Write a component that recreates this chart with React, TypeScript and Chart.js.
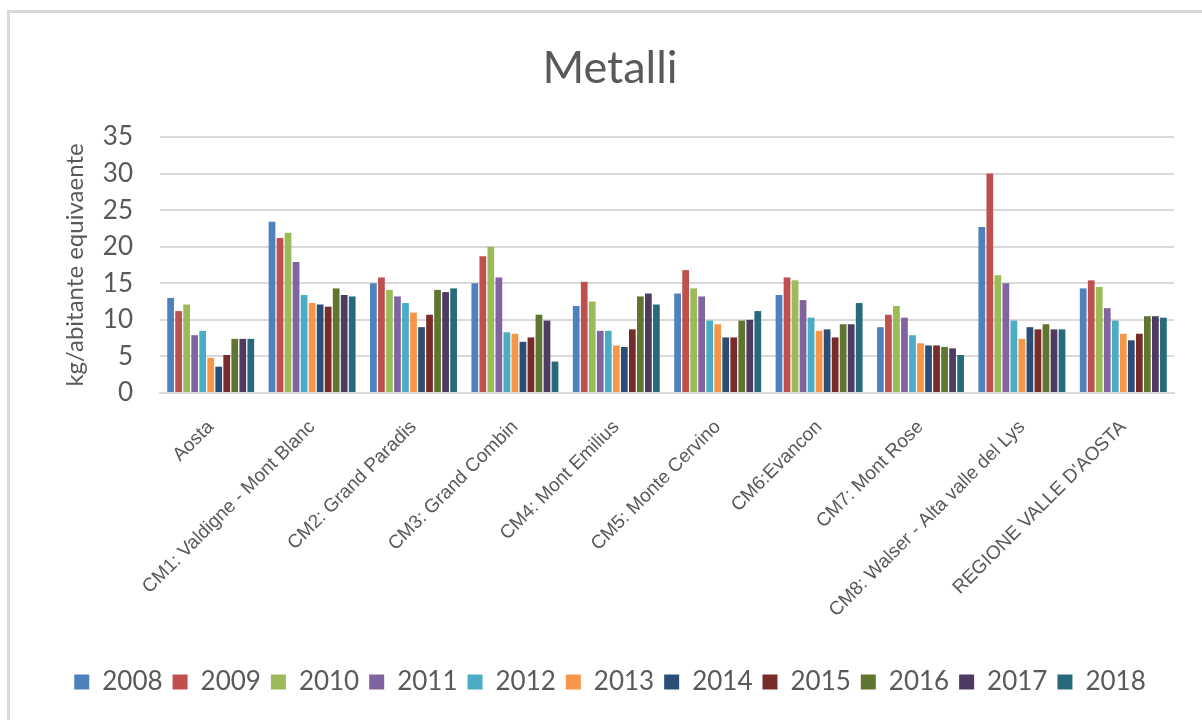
import React, { useEffect, useRef } from "react";
import { Chart, registerables } from "chart.js";

Chart.register(...registerables);

const categories = [
  "Aosta",
  "CM1: Valdigne - Mont Blanc",
  "CM2: Grand Paradis",
  "CM3: Grand Combin",
  "CM4: Mont Emilius",
  "CM5: Monte Cervino",
  "CM6:Evancon",
  "CM7: Mont Rose",
  "CM8: Walser - Alta valle del Lys",
  "REGIONE VALLE D'AOSTA",
];

const years = ["2008", "2009", "2010", "2011", "2012", "2013", "2014", "2015", "2016", "2017", "2018"];

const y2008 = [13.0, 23.4, 15.0, 15.0, 11.9, 13.6, 13.4, 9.0, 22.7, 14.3];
const y2009 = [11.2, 21.2, 15.8, 18.7, 15.2, 16.8, 15.8, 10.7, 30.0, 15.4];
const y2010 = [12.1, 21.9, 14.1, 20.0, 12.5, 14.3, 15.4, 11.9, 16.1, 14.5];
const y2011 = [7.9, 17.9, 13.2, 15.8, 8.5, 13.2, 12.7, 10.3, 15.0, 11.6];
const y2012 = [8.5, 13.4, 12.3, 8.3, 8.5, 9.9, 10.3, 7.9, 9.9, 9.9];
const y2013 = [4.8, 12.3, 11.0, 8.1, 6.5, 9.4, 8.5, 6.8, 7.4, 8.1];
const y2014 = [3.6, 12.1, 9.0, 7.0, 6.3, 7.6, 8.7, 6.5, 9.0, 7.2];
const y2015 = [5.2, 11.8, 10.7, 7.6, 8.7, 7.6, 7.6, 6.5, 8.7, 8.1];
const y2016 = [7.4, 14.3, 14.1, 10.7, 13.2, 9.9, 9.4, 6.3, 9.4, 10.5];
const y2017 = [7.4, 13.4, 13.8, 9.9, 13.6, 10.0, 9.4, 6.1, 8.7, 10.5];
const y2018 = [7.4, 13.2, 14.3, 4.3, 12.1, 11.2, 12.3, 5.2, 8.7, 10.3];

const seriesValues = [y2008, y2009, y2010, y2011, y2012, y2013, y2014, y2015, y2016, y2017, y2018];

const colors = [
  "#4F81BD",
  "#C0504D",
  "#9BBB59",
  "#8064A2",
  "#4BACC6",
  "#F79646",
  "#2C4D75",
  "#772C2A",
  "#5F7530",
  "#4D3B62",
  "#276A7C",
];

const yTicks = [0, 5, 10, 15, 20, 25, 30, 35];

export default function App() {
  const ref = useRef<HTMLCanvasElement | null>(null);

  useEffect(() => {
    if (!ref.current) return;
    const chart = new Chart(ref.current, {
      type: "bar",
      data: {
        labels: categories,
        datasets: years.map((y, i) => ({
          label: y,
          data: seriesValues[i],
          backgroundColor: colors[i],
          borderWidth: 0,
          categoryPercentage: 0.87,
          barPercentage: 0.84,
        })),
      },
      options: {
        responsive: false,
        animation: false,
        layout: { padding: { left: 46, right: 28, top: 0, bottom: 15 } },
        plugins: {
          title: {
            display: true,
            text: "Metalli",
            color: "#595959",
            font: { family: "Lato", size: 45, weight: "normal" },
            padding: { top: 41, bottom: 42 },
          },
          legend: {
            position: "bottom",
            labels: {
              color: "#595959",
              font: { family: "Lato", size: 26 },
              boxWidth: 15,
              boxHeight: 15,
              padding: 10,
            },
          },
          tooltip: { enabled: false },
        },
        scales: {
          x: {
            grid: { display: false, drawTicks: false },
            border: { color: "#d9d9d9", width: 2 },
            ticks: {
              color: "#595959",
              font: { family: "Liberation Sans", size: 19 },
              minRotation: 45,
              maxRotation: 45,
              autoSkip: false,
              padding: 23,
            },
            afterFit: (scale: any) => {
              scale.height = 266;
            },
          },
          y: {
            min: 0,
            max: 35,
            afterBuildTicks: (scale: any) => {
              scale.ticks = yTicks.map((v) => ({ value: v }));
            },
            grid: { color: "#d9d9d9", lineWidth: 2, drawTicks: false },
            border: { display: false },
            ticks: {
              color: "#595959",
              font: { family: "Lato", size: 26 },
              padding: 27,
            },
            title: {
              display: true,
              text: "kg/abitante equivaente",
              color: "#595959",
              font: { family: "Lato", size: 24 },
              padding: { top: 15, bottom: 0 },
            },
            afterFit: (scale: any) => {
              scale.width = 114;
            },
          },
        },
      },
    });
    return () => chart.destroy();
  }, []);

  return (
    <div
      style={{
        position: "fixed",
        left: 0,
        top: 0,
        width: 1202,
        height: 720,
        overflow: "hidden",
        background: "#ffffff",
      }}
    >
      <div
        style={{
          position: "absolute",
          left: 35,
          top: -30,
          width: 1300,
          height: 30,
          border: "3px solid #d9d9d9",
          boxSizing: "border-box",
        }}
      />
      <div
        style={{
          position: "absolute",
          left: 7,
          top: 10,
          width: 1300,
          height: 800,
          border: "3px solid #d9d9d9",
          boxSizing: "border-box",
        }}
      />
      <canvas
        ref={ref}
        width={1202}
        height={720}
        style={{ position: "absolute", left: 0, top: 0, width: 1202, height: 720 }}
      />
    </div>
  );
}
